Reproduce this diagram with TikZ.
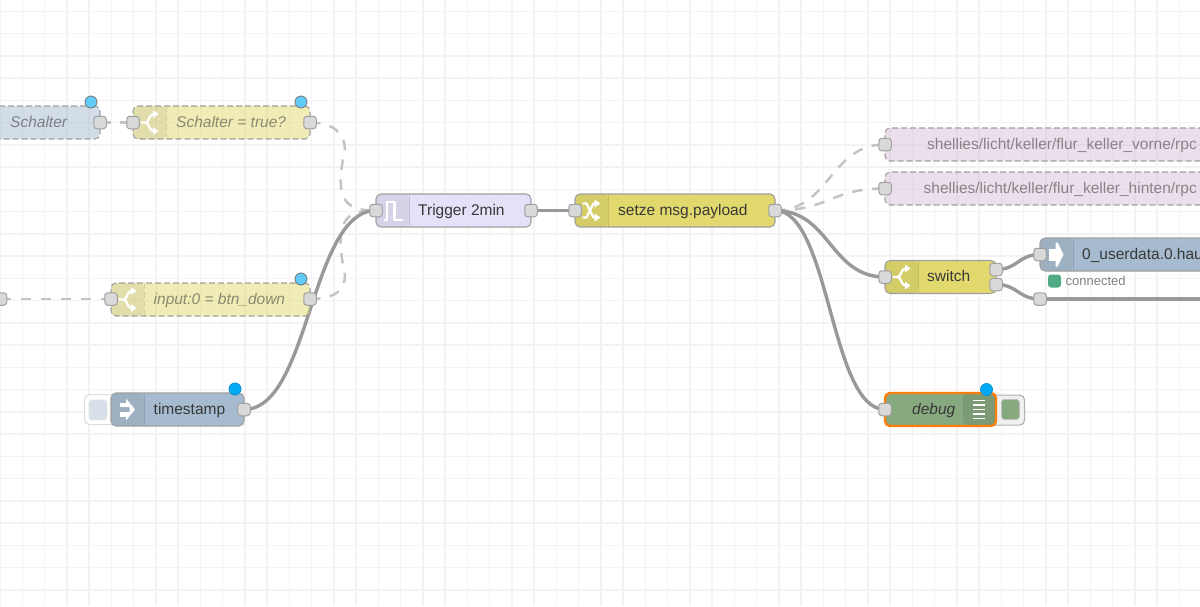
\documentclass[tikz,border=0pt]{standalone}
\usepackage{fontspec}
\usepackage{xcolor}
\usepackage{tikz}
\usetikzlibrary{backgrounds}
\setmainfont{Liberation Sans}
\definecolor{gridcolor}{RGB}{243,243,243}
\definecolor{wirecolor}{RGB}{153,153,153}
\definecolor{dashwirecolor}{RGB}{196,196,196}
\definecolor{bordercolor}{RGB}{160,160,160}
\definecolor{portcolor}{RGB}{217,217,217}
\definecolor{injectcolor}{RGB}{166,187,207}
\definecolor{switchcolor}{RGB}{226,217,110}
\definecolor{triggercolor}{RGB}{230,224,248}
\definecolor{mqttcolor}{RGB}{216,191,216}
\definecolor{debugcolor}{RGB}{135,169,128}
\definecolor{selectcolor}{RGB}{255,127,14}
\definecolor{dotcolor}{RGB}{0,169,244}
\definecolor{statuscolor}{RGB}{79,170,133}

\begin{document}
\begin{tikzpicture}[x=1pt, y=-1pt, line join=round]
    % Define styles
    \tikzstyle{gridline} = [gridcolor, line width=1.5]
    \tikzstyle{flow} = [rectangle, draw=bordercolor, line width=1.1, rounded corners=5, anchor=north west, inner sep=0, outer sep=0, minimum height=33]
    \tikzstyle{tabbed} = [path picture={\fill[black, opacity=.06] (path picture bounding box.north west) rectangle ++(33,33); \draw[black, opacity=.12, line width=.8] ([xshift=33]path picture bounding box.north west) -- ++(0,33);}]
    \tikzstyle{off} = [draw=bordercolor, dash pattern=on 6 off 3, fill opacity=.5]
    \tikzstyle{nodetext} = [anchor=west, inner sep=0, text height=11, text depth=0, text=black!78, font=\fontsize{15.5}{18}\selectfont]
    \tikzstyle{offtext} = [nodetext, text opacity=.55, font=\fontsize{15.5}{18}\selectfont\itshape]
    \tikzstyle{port} = [rectangle, draw=bordercolor, fill=portcolor, line width=1, rounded corners=3, minimum size=12.5, inner sep=0, outer sep=0]
    \tikzstyle{wire} = [wirecolor, line width=3.4]
    \tikzstyle{dashwire} = [dashwirecolor, line width=2.5, dash pattern=on 10.5 off 9.5]
    \tikzstyle{dot} = [circle, fill=dotcolor, draw=dotcolor!85!black, line width=.8, minimum size=12, inner sep=0]
    \tikzstyle{offdot} = [dot, fill=dotcolor!62, draw=black!55]
    \tikzstyle{button} = [rectangle, rounded corners=5, line width=1.2, anchor=north west, inner sep=0, minimum height=30]
    \tikzstyle{buttonface} = [rectangle, rounded corners=3, draw=black!25, line width=.8, anchor=north west, inner sep=0]
    \tikzstyle{iconline} = [white, line width=2.3]
    \tikzstyle{iconhead} = [fill=white]

    % Node icons
    \tikzset{
        switchicon/.pic={
            \draw [iconline] (-9,0) -- (-3.5,0) .. controls (-0.5,0) and (-0.5,-8.5) .. (4,-8.5);
            \draw [iconline] (-3.5,0) .. controls (-0.5,0) and (-0.5,8.5) .. (4,8.5);
            \fill [iconhead] (3.5,-12.5) -- (9,-8.5) -- (3.5,-4.5) -- cycle;
            \fill [iconhead] (3.5,4.5) -- (9,8.5) -- (3.5,12.5) -- cycle;
        },
        changeicon/.pic={
            \draw [iconline] (-9,-7) -- (-5,-7) -- (2,7) -- (4,7);
            \draw [iconline] (-9,7) -- (-5,7) -- (2,-7) -- (4,-7);
            \fill [iconhead] (3,-11) -- (9,-7) -- (3,-3) -- cycle;
            \fill [iconhead] (3,3) -- (9,7) -- (3,11) -- cycle;
        },
        triggericon/.pic={
            \draw [iconline] (-9,9.5) -- (-5.5,9.5) -- (-5.5,-8.5) -- (2,-8.5) -- (2,9.5) -- (10,9.5);
        },
        injecticon/.pic={
            \fill [iconhead] (-8,-7) rectangle (-1,-2.5);
            \fill [iconhead] (-8,2.5) rectangle (-1,7);
            \fill [iconhead] (-1.5,-11) -- (7.5,0) -- (-1.5,11) -- (-1.5,2.5) -- (2,2.5) -- (2,-2.5) -- (-1.5,-2.5) -- cycle;
        },
        linkicon/.pic={
            \fill [iconhead] (-7.5,-6) rectangle (0,6);
            \fill [iconhead] (-1,-12) -- (1,-12) -- (7,0) -- (1,12) -- (-1,12) -- cycle;
        },
        debugicon/.pic={
            \foreach \rung in {-9,-4.5,0,4.5,9}
                \draw [white, line width=1.5] (-6,\rung) -- (6,\rung);
        }
    }

    \useasboundingbox (0,0) rectangle (1200,606);

    % Grid
    \begin{scope}[on background layer]
        \foreach \col in {0,...,54}
            \draw [gridline] (22.25*\col,0) -- (22.25*\col,606);
        \foreach \row in {0,...,27}
            \draw [gridline] (0,11.4+22.25*\row) -- (1200,11.4+22.25*\row);
    \end{scope}

    % Buttons
    \node [button, draw=black!13, fill=white, minimum width=34] (timestampbtn) at (84,394) {};
    \node [buttonface, fill=injectcolor!45, draw=black!10, minimum width=18, minimum height=20] (timestampface) at (88.5,399.5) {};
    \node [button, draw=black!30, fill=black!6, minimum width=34] (debugbtn) at (990,394.5) {};
    \node [buttonface, fill=debugcolor, minimum width=18, minimum height=20] (debugface) at (1001,399) {};

    % Nodes
    \node [flow, off, fill=injectcolor, minimum width=140] (schalter) at (-40,106) {};
    \node [flow, off, tabbed, fill=switchcolor, minimum width=177] (schaltertrue) at (133,106) {};
    \node [flow, off, tabbed, fill=switchcolor, minimum width=199] (btndown) at (111,283) {};
    \node [flow, tabbed, fill=injectcolor, minimum width=133] (timestamp) at (111,393) {};
    \node [flow, tabbed, fill=triggercolor, minimum width=155] (trigger) at (376,194) {};
    \node [flow, tabbed, fill=switchcolor, minimum width=200] (setze) at (575,194) {};
    \node [flow, off, fill=mqttcolor, minimum width=360] (vorne) at (885,128) {};
    \node [flow, off, fill=mqttcolor, minimum width=360] (hinten) at (885,172) {};
    \node [flow, tabbed, fill=switchcolor, minimum width=111] (switch) at (885,260.5) {};
    \node [flow, tabbed, fill=injectcolor, minimum width=200] (userdata) at (1040,238) {};
    \node [flow, draw=selectcolor, line width=2.4, fill=debugcolor, minimum width=111, path picture={\fill[black, opacity=.08] ([xshift=78]path picture bounding box.north west) rectangle ++(33,33);}] (debug) at (885,393) {};

    % Icons
    \pic at (149.5,122.5) {switchicon};
    \pic at (127.5,299.5) {switchicon};
    \pic at (127.5,409.5) {injecticon};
    \pic at (392.5,210.5) {triggericon};
    \pic at (591.5,210.5) {changeicon};
    \pic at (901.5,277) {switchicon};
    \pic at (1056.5,254.5) {linkicon};
    \pic at (979,409.5) {debugicon};

    % Labels
    \node [offtext] (schaltertext) at (10,121.8) {Schalter};
    \node [offtext] (schaltertruetext) at (176,121.8) {Schalter = true?};
    \node [offtext] (btndowntext) at (153.5,298.8) {input:0 = btn\_down};
    \node [nodetext] (timestamptext) at (153.5,408.8) {timestamp};
    \node [nodetext] (triggertext) at (418,209.8) {Trigger 2min};
    \node [nodetext] (setzetext) at (618,209.8) {setze msg.payload};
    \node [nodetext, anchor=east, text opacity=.55] (vornetext) at (1197,143.8) {shellies/licht/keller/flur\_keller\_vorne/rpc};
    \node [nodetext, anchor=east, text opacity=.55] (hintentext) at (1197,187.8) {shellies/licht/keller/flur\_keller\_hinten/rpc};
    \node [nodetext] (switchtext) at (927,276.3) {switch};
    \node [nodetext] (userdatatext) at (1082,253.8) {0\_userdata.0.hau};
    \node [nodetext, font=\fontsize{15.5}{18}\selectfont\itshape] (debugtext) at (912,408.8) {debug};

    % Status
    \node [rectangle, rounded corners=3, fill=statuscolor, minimum size=13, inner sep=0] (statusled) at (1054.5,281) {};
    \node [anchor=west, inner sep=0, text height=9.5, text depth=0, text=black!50, font=\fontsize{13}{15}\selectfont] (statustext) at (1065.5,281) {connected};

    % Changed markers
    \node [offdot] (schalterdot) at (91,102) {};
    \node [offdot] (schaltertruedot) at (301,102) {};
    \node [offdot] (btndowndot) at (301,279) {};
    \node [dot] (timestampdot) at (235,389) {};
    \node [dot] (debugdot) at (986.5,389.5) {};

    % Ports
    \node [port] (schalterout) at (100,122.5) {};
    \node [port] (schaltertruein) at (133,122.5) {};
    \node [port] (schaltertrueout) at (310,122.5) {};
    \node [port] (leftout) at (0.5,299) {};
    \node [port] (btndownin) at (111,299) {};
    \node [port] (btndownout) at (310,299) {};
    \node [port] (timestampout) at (244,409.5) {};
    \node [port] (triggerin) at (376,210.5) {};
    \node [port] (triggerout) at (531,210.5) {};
    \node [port] (setzein) at (575,210.5) {};
    \node [port] (setzeout) at (775,210.5) {};
    \node [port] (vornein) at (885,144.5) {};
    \node [port] (hintenin) at (885,188.5) {};
    \node [port] (switchin) at (885,277) {};
    \node [port] (switchouta) at (996,269.5) {};
    \node [port] (switchoutb) at (996,284.5) {};
    \node [port] (userdatain) at (1040,254.5) {};
    \node [port] (junction) at (1040,299) {};
    \node [port] (debugin) at (885,409.5) {};

    \coordinate (upperbend) at (345,150);
    \coordinate (lowerbend) at (345,275);
    \coordinate (offcanvas) at (1205,299);

    % Arrows
    \begin{scope}[on background layer]
        \draw [dashwire] (schalterout.center) -- (schaltertruein.center);
        \draw [dashwire] (leftout.center) -- (btndownin.center);
        \draw [dashwire] (schaltertrueout.center) .. controls +(25,0) and +(0,-15) .. (upperbend) .. controls +(-13,55) and +(-26,0) .. (triggerin.center);
        \draw [dashwire] (btndownout.center) .. controls +(25,0) and +(0,15) .. (lowerbend) .. controls +(-13,-60) and +(-26,0) .. (triggerin.center);
        \draw [dashwire] (setzeout.center) .. controls +(55,0) and +(-55,0) .. (vornein.center);
        \draw [dashwire] (setzeout.center) .. controls +(55,0) and +(-55,0) .. (hintenin.center);
        \draw [wire] (timestampout.center) .. controls +(66,0) and +(-66,0) .. (triggerin.center);
        \draw [wire] (triggerout.center) -- (setzein.center);
        \draw [wire] (setzeout.center) .. controls +(55,0) and +(-55,0) .. (switchin.center);
        \draw [wire] (setzeout.center) .. controls +(55,0) and +(-55,0) .. (debugin.center);
        \draw [wire] (switchouta.center) .. controls +(22,0) and +(-22,0) .. (userdatain.center);
        \draw [wire] (switchoutb.center) .. controls +(22,0) and +(-22,0) .. (junction.center);
        \draw [wire] (junction.center) -- (offcanvas);
    \end{scope}
\end{tikzpicture}
\end{document}
